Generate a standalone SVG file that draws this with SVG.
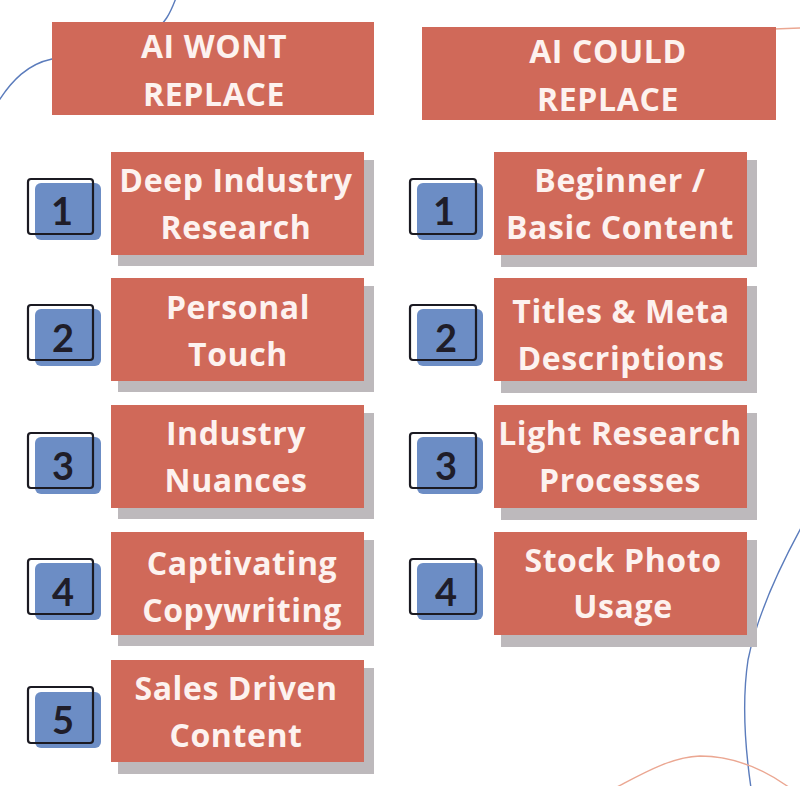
<svg xmlns="http://www.w3.org/2000/svg" width="800" height="786" viewBox="0 0 800 786">
<style>
.hdr{fill:#d06959}
.box{fill:#d06959}
.sh{fill:#bdb9bc}
.blue{fill:#6c8dc5}
.out{fill:none;stroke:#1b1a22;stroke-width:2.2}
.t{font-family:"Open Sans","Liberation Sans",sans-serif;font-weight:700;font-size:32px;letter-spacing:0.6px;fill:#fdf2ef;text-anchor:middle}
.h{font-family:"Open Sans","Liberation Sans",sans-serif;font-weight:700;font-size:32px;letter-spacing:0.6px;fill:#fdf2ef;text-anchor:middle}
.n{font-family:"Lato","Open Sans",sans-serif;font-weight:700;font-size:38px;fill:#1f1d29;text-anchor:middle}
.deco{fill:none;stroke-width:1.4}
</style>
<rect width="800" height="786" fill="#ffffff"/>
<g id="decorations">
<path class="deco" stroke="#5b7cbc" d="M176,-2 C170,14 166,22 150,36 C120,55 75,54 52,59 C28,64 12,80 -2,102"/>
<path class="deco" stroke="#5b7cbc" d="M801,528 C776,574 756,620 748,660 C742,700 744,740 751,788"/>
<path class="deco" stroke="#eba792" d="M615,788 C640,775 670,757 700,756 C735,756 765,770 790,788"/>
<path class="deco" stroke="#eba792" stroke-width="2" d="M774,29 L800,28"/>
</g>
<g id="header-left">
<rect class="hdr" x="52" y="22" width="322" height="93"/>
<text class="h" x="214" y="58">AI WONT</text>
<text class="h" x="214" y="106">REPLACE</text>
</g>
<g id="header-right">
<rect class="hdr" x="422" y="27" width="354" height="93"/>
<text class="h" x="608" y="63">AI COULD</text>
<text class="h" x="608" y="111">REPLACE</text>
</g>
<g id="left-1">
<rect class="sh" x="118" y="160" width="256" height="106"/>
<rect class="box" x="111" y="152" width="253" height="103"/>
<text class="t" x="236" y="192">Deep Industry</text>
<text class="t" x="236" y="239">Research</text>
<rect class="blue" x="35" y="183" width="66" height="57" rx="6"/>
<rect class="out" x="28" y="179" width="65" height="55" rx="3"/>
<text class="n" x="62" y="225">1</text>
</g>
<g id="left-2">
<rect class="sh" x="118" y="286" width="256" height="106"/>
<rect class="box" x="111" y="278" width="253" height="103"/>
<text class="t" x="238" y="319">Personal</text>
<text class="t" x="238" y="366">Touch</text>
<rect class="blue" x="35" y="309" width="66" height="57" rx="6"/>
<rect class="out" x="28" y="305" width="65" height="55" rx="3"/>
<text class="n" x="63" y="352">2</text>
</g>
<g id="left-3">
<rect class="sh" x="118" y="413" width="256" height="106"/>
<rect class="box" x="111" y="405" width="253" height="103"/>
<text class="t" x="236" y="445">Industry</text>
<text class="t" x="236" y="492">Nuances</text>
<rect class="blue" x="35" y="437" width="66" height="57" rx="6"/>
<rect class="out" x="28" y="433" width="65" height="55" rx="3"/>
<text class="n" x="63" y="480">3</text>
</g>
<g id="left-4">
<rect class="sh" x="118" y="540" width="256" height="106"/>
<rect class="box" x="111" y="532" width="253" height="103"/>
<text class="t" x="242" y="575">Captivating</text>
<text class="t" x="242" y="622">Copywriting</text>
<rect class="blue" x="35" y="563" width="66" height="57" rx="6"/>
<rect class="out" x="28" y="559" width="65" height="55" rx="3"/>
<text class="n" x="63" y="606">4</text>
</g>
<g id="left-5">
<rect class="sh" x="118" y="668" width="256" height="106"/>
<rect class="box" x="111" y="660" width="253" height="102"/>
<text class="t" x="236" y="700">Sales Driven</text>
<text class="t" x="236" y="747">Content</text>
<rect class="blue" x="35" y="692" width="66" height="56" rx="6"/>
<rect class="out" x="28" y="687" width="65" height="56" rx="3"/>
<text class="n" x="63" y="734">5</text>
</g>
<g id="right-1">
<rect class="sh" x="501" y="160" width="256" height="107"/>
<rect class="box" x="494" y="152" width="253" height="103"/>
<text class="t" x="620" y="192">Beginner /</text>
<text class="t" x="620" y="239">Basic Content</text>
<rect class="blue" x="417" y="183" width="66" height="57" rx="6"/>
<rect class="out" x="410" y="179" width="66" height="55" rx="3"/>
<text class="n" x="444" y="225">1</text>
</g>
<g id="right-2">
<rect class="sh" x="501" y="286" width="256" height="107"/>
<rect class="box" x="494" y="278" width="253" height="103"/>
<text class="t" x="621" y="323">Titles &amp; Meta</text>
<text class="t" x="621" y="370">Descriptions</text>
<rect class="blue" x="417" y="309" width="66" height="57" rx="6"/>
<rect class="out" x="410" y="305" width="66" height="55" rx="3"/>
<text class="n" x="446" y="352">2</text>
</g>
<g id="right-3">
<rect class="sh" x="501" y="413" width="256" height="107"/>
<rect class="box" x="494" y="405" width="253" height="103"/>
<text class="t" x="620" y="445">Light Research</text>
<text class="t" x="620" y="492">Processes</text>
<rect class="blue" x="417" y="437" width="66" height="57" rx="6"/>
<rect class="out" x="410" y="433" width="66" height="55" rx="3"/>
<text class="n" x="446" y="480">3</text>
</g>
<g id="right-4">
<rect class="sh" x="501" y="540" width="256" height="107"/>
<rect class="box" x="494" y="532" width="253" height="103"/>
<text class="t" x="623" y="572">Stock Photo</text>
<text class="t" x="623" y="618">Usage</text>
<rect class="blue" x="417" y="563" width="66" height="57" rx="6"/>
<rect class="out" x="410" y="559" width="66" height="55" rx="3"/>
<text class="n" x="446" y="606">4</text>
</g>
</svg>
